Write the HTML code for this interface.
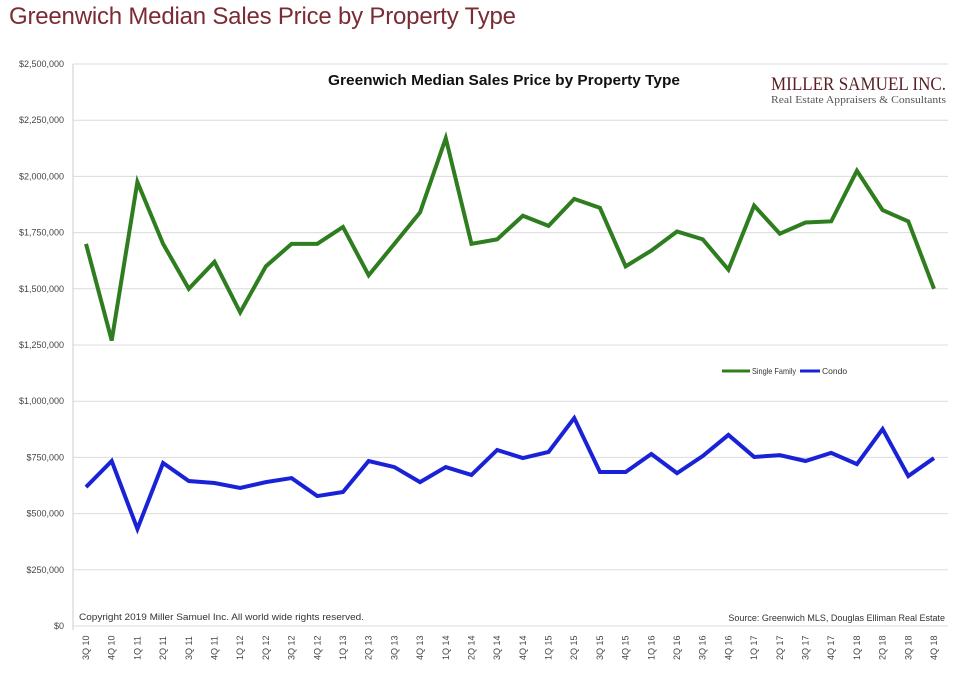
<!DOCTYPE html>
<html><head><meta charset="utf-8"><style>
body{margin:0;background:#fff;width:960px;height:678px;overflow:hidden;font-family:"Liberation Sans",sans-serif}
</style></head><body>
<div style="position:absolute;left:9px;top:3px;font-size:24px;color:#7b2b33;font-family:'Liberation Sans',sans-serif;letter-spacing:-0.2px">Greenwich Median Sales Price by Property Type</div>
<svg id="chart" width="960" height="678" style="position:absolute;left:0;top:0" font-family="Liberation Sans, sans-serif"></svg>
<script>
const categories=["3Q 10","4Q 10","1Q 11","2Q 11","3Q 11","4Q 11","1Q 12","2Q 12","3Q 12","4Q 12","1Q 13","2Q 13","3Q 13","4Q 13","1Q 14","2Q 14","3Q 14","4Q 14","1Q 15","2Q 15","3Q 15","4Q 15","1Q 16","2Q 16","3Q 16","4Q 16","1Q 17","2Q 17","3Q 17","4Q 17","1Q 18","2Q 18","3Q 18","4Q 18"];
const singleFamily=[1700000,1270000,1975000,1700000,1500000,1620000,1395000,1600000,1700000,1700000,1775000,1560000,1700000,1840000,2170000,1700000,1720000,1825000,1780000,1900000,1860000,1600000,1670000,1755000,1720000,1585000,1870000,1745000,1795000,1800000,2025000,1850000,1800000,1500000];
const condo=[618000,734000,432000,725000,645000,636000,614000,640000,658000,578000,596000,734000,707000,640000,707000,672000,783000,747000,774000,925000,685000,685000,765000,680000,756000,850000,752000,760000,734000,770000,720000,876000,667000,747000];
const yTicks=[0,250000,500000,750000,1000000,1250000,1500000,1750000,2000000,2250000,2500000];
const yTickLabels=["$0","$250,000","$500,000","$750,000","$1,000,000","$1,250,000","$1,500,000","$1,750,000","$2,000,000","$2,250,000","$2,500,000"];
const NS="http://www.w3.org/2000/svg";
const svg=document.getElementById('chart');
const y=v=>626-v/2500000*562;
const x=i=>86+i*(934-86)/(categories.length-1);
function mk(t,a,txt){const e=document.createElementNS(NS,t);for(const k in a)e.setAttribute(k,a[k]);if(txt!==undefined)e.textContent=txt;svg.appendChild(e);return e;}
yTicks.forEach((v,i)=>{
 const g=mk('line',{x1:73,x2:948,y1:y(v),y2:y(v),stroke:'#dcdcdc','stroke-width':1});
 
 
 const t=mk('text',{x:64,y:y(v)+3,'text-anchor':'end','font-size':9,fill:'#444'},yTickLabels[i]);
 
 
});
const ax=mk('line',{x1:73,x2:73,y1:64,y2:630,stroke:'#ccc'});


categories.forEach((c,i)=>{
 const t=mk('text',{transform:`translate(${x(i)+3},660) rotate(-90)`,'font-size':9,fill:'#444'},c);
 
 
});
function series(d,col,name){const p=mk('polyline',{points:d.map((v,i)=>x(i)+','+y(v)).join(' '),fill:'none',stroke:col,'stroke-width':4,'stroke-linejoin':'miter'});
 
 }
series(singleFamily,'#2e7d1f','single-family-line');
series(condo,'#1a22d8','condo-line');
let e;
e=mk('text',{x:328,y:85,'font-size':15,'font-weight':'bold',fill:'#111',textLength:352,lengthAdjust:'spacingAndGlyphs'},'Greenwich Median Sales Price by Property Type');


e=mk('text',{x:771,y:90,'font-size':19,fill:'#5a1e22','font-family':'Liberation Serif, serif',textLength:175,lengthAdjust:'spacingAndGlyphs'},'MILLER SAMUEL INC.');


e=mk('text',{x:771,y:103,'font-size':11,fill:'#555','font-family':'Liberation Serif, serif',textLength:175,lengthAdjust:'spacingAndGlyphs'},'Real Estate Appraisers & Consultants');


e=mk('line',{x1:722,x2:750,y1:371,y2:371,stroke:'#2e7d1f','stroke-width':3});


e=mk('text',{x:752,y:374,'font-size':8.5,fill:'#333',textLength:44,lengthAdjust:'spacingAndGlyphs'},'Single Family');


e=mk('line',{x1:800,x2:820,y1:371,y2:371,stroke:'#1a22d8','stroke-width':3});


e=mk('text',{x:822,y:374,'font-size':8.5,fill:'#333'},'Condo');


e=mk('text',{x:79,y:620,'font-size':9,fill:'#333',textLength:285,lengthAdjust:'spacingAndGlyphs'},'Copyright 2019 Miller Samuel Inc.  All world wide rights reserved.');


e=mk('text',{x:945,y:621,'text-anchor':'end','font-size':9,fill:'#333'},'Source: Greenwich MLS, Douglas Elliman Real Estate');


</script>
</body></html>
